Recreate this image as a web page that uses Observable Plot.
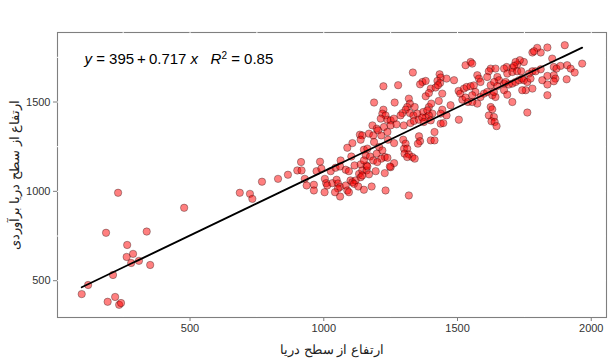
<!DOCTYPE html>
<html>
<head>
<meta charset="utf-8">
<script src="https://cdn.jsdelivr.net/npm/d3@7"></script>
<script src="https://cdn.jsdelivr.net/npm/@observablehq/plot@0.6"></script>
<style>
  html, body { margin: 0; padding: 0; background: #fff; }
  #chart svg { display: block; }
</style>
</head>
<body>
<div id="chart"></div>
<script>
// Observed elevation (x) and estimated elevation (y)
const xVals = [
  95,119,186,192,212,220,231,235,242,265,263,287,280,309,338,351,478,
  686,724,733,769,829,866,901,917,915,929,936,963,963,
  1135,1107,1088,1150,1103,1063,986,973,991,1026,1044,1061,1082,1094,1115,1138,1160,
  1132,1144,1160,1169,1194,1228,1250,1004,1009,1013,1003,1032,1048,1053,1061,1053,1042,
  1061,1082,1088,1094,1100,1107,1119,1113,1138,1144,1129,1150,1179,1231,1318,1263,
  1530,1333,1433,1437,1425,1435,1459,1487,1369,1381,1360,1223,1278,1400,1418,1427,1443,
  1381,1393,1430,1504,1510,1524,1534,1518,1530,1539,1474,1505,1188,1265,1318,1322,1312,
  1306,1223,1219,1231,1213,1238,1250,1262,1294,1287,1322,1335,1340,1350,1372,1393,1402,
  1387,1406,1393,1381,1400,1443,1437,1459,1182,1198,1225,1250,1272,1299,1324,1337,1355,
  1368,1374,1144,1138,1169,1185,1203,1215,1238,1240,1263,1188,1207,1219,1198,1228,1215,
  1238,1163,1157,1173,1297,1306,1300,1312,1302,1318,1331,1340,1312,1356,1360,1352,1414,
  1400,1414,1437,1447,1150,1163,1185,1200,1247,1549,1561,
  1901,1836,1811,1798,1780,1786,1854,1748,1733,1723,1717,1705,1711,1684,1674,1624,1642,
  1617,1574,1580,1586,1611,1649,1655,1686,1705,1723,1738,1780,1792,1767,1811,1860,1870,
  1885,1910,1923,1938,1966,1860,1866,1836,1908,1817,1836,1860,1549,1555,1624,1637,1649,
  1674,1680,1692,1705,1717,1730,1742,1748,1761,1773,1780,1755,1567,1555,1586,1599,1611,
  1630,1642,1636,1674,1686,1705,1742,1574,1555,1624,1630,1617,1636,1627,1639,1646,1761,1836
];
const yVals = [
  425,476,768,382,532,409,992,365,375,700,633,650,599,611,775,588,908,
  992,986,958,1054,1070,1093,1117,1117,1164,1070,1033,1037,1005,
  1317,1270,1244,1233,1195,1173,1166,1113,1127,1113,1132,1139,1121,1113,1145,1151,1145,
  1098,1117,1117,1095,1113,1102,1135,1070,1046,1033,995,1046,1065,1044,1025,1016,995,
  971,1033,1005,995,1061,1051,1061,1042,1079,1089,1027,1009,1027,1005,977,1158,
  1706,1665,1655,1637,1618,1607,1631,1622,1612,1618,1599,1588,1594,1575,1581,1594,1547,
  1532,1550,1506,1562,1547,1575,1584,1513,1525,1500,1482,1401,1497,1497,1519,1491,1472,
  1457,1457,1435,1425,1407,1401,1397,1407,1438,1425,1438,1425,1472,1435,1444,1472,1491,
  1453,1435,1425,1413,1397,1457,1435,1425,1369,1351,1360,1369,1375,1369,1382,1394,1401,
  1413,1388,1313,1289,1323,1313,1341,1313,1332,1289,1270,1276,1248,1229,1211,1192,1183,
  1188,1239,1201,1195,1289,1267,1239,1239,1211,1207,1192,1183,1192,1308,1281,1267,1332,
  1285,1285,1379,1382,1173,1139,1173,1164,1139,1588,1593,
  1818,1805,1777,1803,1777,1784,1743,1724,1734,1710,1724,1691,1702,1696,1687,1687,1687,
  1672,1650,1631,1612,1640,1640,1622,1659,1668,1672,1672,1672,1672,1659,1683,1696,1687,
  1702,1706,1687,1665,1715,1650,1631,1646,1627,1622,1598,1616,1724,1715,1594,1612,1589,
  1603,1612,1598,1603,1612,1622,1631,1622,1612,1631,1575,1566,1556,1538,1528,1547,1556,
  1538,1528,1556,1566,1541,1500,1566,1491,1500,1472,1459,1425,1416,1392,1388,1365,1441,1538
];
const intercept = 395;
const slope = 0.717;
const r2 = 0.85;
const xTicks = [500, 1000, 1500, 2000];
const yTicks = [500, 1000, 1500];
const gridX = [250, 500, 750, 1000, 1250, 1500, 1750, 2000];
const gridY = [500, 750, 1000, 1250, 1500, 1750];
const xLabel = "ارتفاع از سطح دریا";
const yLabel = "ارتفاع از سطح دریا برآوردی";

const points = xVals.map((x, i) => ({x, y: yVals[i]}));
const [xMin, xMax] = d3.extent(xVals);
const fit = d3.range(0, 81).map(i => {
  const x = xMin + (xMax - xMin) * i / 80;
  return {x, y: intercept + slope * x};
});

const font = "'Liberation Sans', Arial, sans-serif";

const plot = Plot.plot({
  width: 614,
  height: 361,
  marginLeft: 57,
  marginRight: 8,
  marginTop: 32,
  marginBottom: 44,
  style: {fontFamily: font, fontSize: "11px", color: "#333", background: "#fff"},
  x: {domain: [4.5, 2057]},
  y: {domain: [294, 1889]},
  marks: [
    Plot.frame({stroke: "#7f7f7f", strokeWidth: 1.1}),
    Plot.ruleX(gridX, {stroke: "#fff", strokeWidth: 1}),
    Plot.ruleY(gridY, {stroke: "#fff", strokeWidth: 1}),
    Plot.axisX({ticks: xTicks, tickFormat: d => String(d), tickSize: 4, tickPadding: 3, stroke: "#7f7f7f",
      fill: "#333", fontSize: 11, label: xLabel, labelAnchor: "center", labelOffset: 36, labelArrow: "none"}),
    Plot.axisY({ticks: yTicks, tickFormat: d => String(d), tickSize: 4, tickPadding: 3, stroke: "#7f7f7f",
      fill: "#333", fontSize: 11, label: yLabel, labelAnchor: "center", labelOffset: 48, labelArrow: "none"}),
    Plot.dot(points, {x: "x", y: "y", r: 3.7, fill: "red", fillOpacity: 0.5,
      stroke: "#000", strokeOpacity: 0.45, strokeWidth: 0.7}),
    Plot.line(fit, {x: "x", y: "y", stroke: "#000", strokeWidth: 1.8}),
    Plot.text([`y = ${intercept} + ${slope} x   R2 = ${r2}`], {frameAnchor: "top-left",
      dx: 27, dy: 27, textAnchor: "start", lineAnchor: "middle", fontSize: 15, fill: "#000"})
  ]
});

document.getElementById("chart").appendChild(plot);

// rich formatting for the regression annotation
const svg = d3.select(plot);
svg.selectAll("[aria-label='x-axis label'] text, [aria-label='y-axis label'] text")
  .style("font-size", "13px").attr("fill", "#222");
const t = svg.select("g[aria-label='text'] text");
t.text(null);
t.append("tspan").attr("font-style", "italic").text("y");
t.append("tspan").text(` = ${intercept}\u2009+\u2009${slope} `);
t.append("tspan").attr("font-style", "italic").text("x");
t.append("tspan").text("\u00a0\u00a0\u00a0");
t.append("tspan").attr("font-style", "italic").text("R");
t.append("tspan").attr("font-size", 10).attr("dy", "-0.55em").text("2");
t.append("tspan").attr("dy", "0.37em").text(` = ${r2}`);
</script>
</body>
</html>
